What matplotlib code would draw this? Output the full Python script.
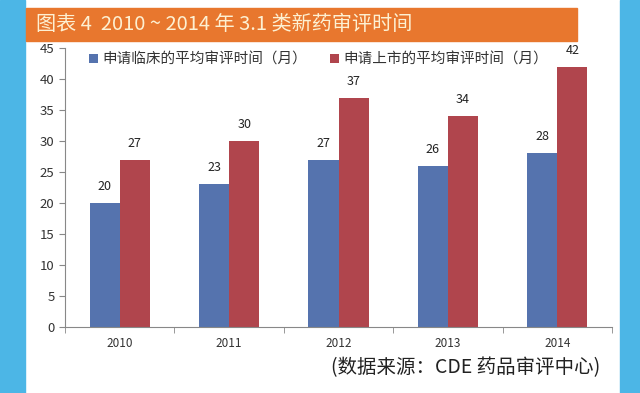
import numpy as np
import matplotlib
matplotlib.use('Agg')
import matplotlib.pyplot as plt
from matplotlib.patches import Rectangle

plt.rcParams['font.family'] = ['Noto Sans CJK SC', 'DejaVu Sans']

# データ
years = ['2010', '2011', '2012', '2013', '2014']
clinical = [20, 23, 27, 26, 28]
market = [27, 30, 37, 34, 42]
label_clinical = '申请临床的平均审评时间（月）'
label_market = '申请上市的平均审评时间（月）'
title = '图表 4  2010 ~ 2014 年 3.1 类新药审评时间'
source = '(数据来源：CDE 药品审评中心)'

fig = plt.figure(figsize=(6.4, 3.93), dpi=100)

# 背景の青い帯
fig.patches.append(Rectangle((0, 0), 25 / 640, 1, transform=fig.transFigure,
                             color='#4cb6e6', zorder=0))
fig.patches.append(Rectangle((620 / 640, 0), 20 / 640, 1, transform=fig.transFigure,
                             color='#4cb6e6', zorder=0))
# タイトルバー
fig.patches.append(Rectangle((26 / 640, 1 - 41 / 393), 551 / 640, 33 / 393,
                             transform=fig.transFigure, color='#e8772e', zorder=1))
fig.text(36 / 640, 1 - 24 / 393, title, color='#fdf0d2', fontsize=14.5,
         va='center', ha='left')

ax = fig.add_axes([65 / 640, 1 - 327 / 393, 547 / 640, 279 / 393])
x = np.arange(len(years))
w = 0.275
b1 = ax.bar(x - w / 2, clinical, w, color='#5573ae', label=label_clinical)
b2 = ax.bar(x + w / 2, market, w, color='#b0454d', label=label_market)
for bars, vals in ((b1, clinical), (b2, market)):
    for r, v in zip(bars, vals):
        ax.text(r.get_x() + r.get_width() / 2, v + 1.6, str(v), ha='center',
                va='bottom', fontsize=9, color='#222222')

ax.set_xlim(-0.5, len(years) - 0.5)
ax.set_ylim(0, 45)
ax.set_yticks(range(0, 46, 5))
ax.set_xticks(x)
ax.set_xticklabels(years)
ax.set_xticks(np.arange(-0.5, len(years), 1), minor=True)
ax.tick_params(axis='x', which='major', length=0, pad=7, labelsize=8.5, colors='#333333')
ax.tick_params(axis='x', which='minor', length=4, direction='out', color='#888888')
ax.tick_params(axis='y', length=4, labelsize=9.5, colors='#333333', color='#888888')
for s in ('top', 'right'):
    ax.spines[s].set_visible(False)
ax.spines['left'].set_color('#888888')
ax.spines['bottom'].set_color('#888888')

ax.legend(ncol=2, loc='upper left', bbox_to_anchor=(0.02, 1.03), frameon=False,
          fontsize=10.5, handlelength=0.6, handleheight=0.6, handletextpad=0.3,
          columnspacing=1.6, labelcolor='#333333')

fig.text(600 / 640, 1 - 368 / 393, source, ha='right', va='center',
         fontsize=14, color='#222222')

fig.savefig('out.png', dpi=100)
